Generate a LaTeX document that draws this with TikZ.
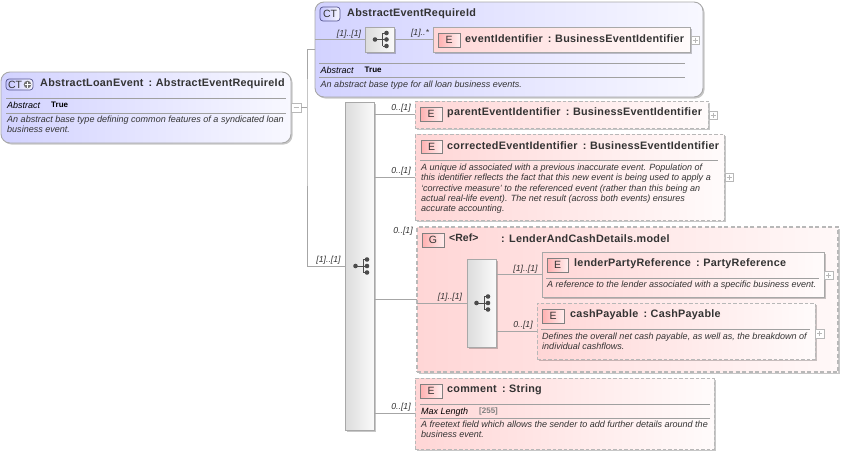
\documentclass[tikz,border=0pt]{standalone}
\usepackage{fontspec}
\setmainfont{Liberation Sans}
\usetikzlibrary{shadows,calc}
\definecolor{ink}{HTML}{333333}
\definecolor{bord}{HTML}{A8A8A8}
\definecolor{dashb}{HTML}{B8B8B8}
\definecolor{conn}{HTML}{A6A6A6}
\definecolor{rule}{HTML}{A0A0A0}
\newfontfamily\tfont{Liberation Sans}[LetterSpace=2.5]
\newcommand{\cc}{\hspace{5.2pt}:\hspace{3.6pt}}
\tikzset{
  base/.style={inner sep=0pt,outer sep=0pt,draw},
  shad/.style={drop shadow={shadow xshift=1.5pt,shadow yshift=-1.5pt,fill=black,opacity=.22}},
  ctbox/.style={base,shad,draw=bord,line width=.9pt,rounded corners=9pt,left color=ctleft,right color=ctright},
  elsolid/.style={base,shad,draw=bord,line width=1pt,left color=elleft,right color=elright},
  eldash/.style={base,shad,draw=dashb,line width=1pt,dash pattern=on 3.5pt off 2pt,left color=elleft,right color=elright},
  grp/.style={base,shad,draw=dashb,line width=1.3pt,dash pattern=on 4pt off 2.5pt,left color=grleft,right color=grright},
  seq/.style={base,shad,draw=bord,line width=.8pt,left color=sqleft,right color=sqright},
  icE/.style={base,draw=black!50,line width=.6pt,left color=icB,right color=icT,text=ink,font=\fontsize{10.5}{12}\selectfont},
  icC/.style={base,draw=ctdark,line width=.7pt,rounded corners=3pt,left color=cticon,right color=ctright,text=ink,font=\fontsize{10.5}{12}\selectfont},
  plusb/.style={base,draw=black!28,line width=.5pt,fill=white},
  title/.style={inner sep=0pt,anchor=west,text=ink,font=\tfont\bfseries\fontsize{10.8}{13}\selectfont},
  prop/.style={inner sep=0pt,anchor=west,text=black,font=\itshape\fontsize{9}{10}\selectfont},
  propv/.style={inner sep=0pt,anchor=west,text=black,font=\bfseries\fontsize{8}{10}\selectfont},
  desc/.style={inner sep=0pt,anchor=north west,align=left,text=ink,font=\itshape\fontsize{9.03}{10.2}\selectfont},
  lab/.style={inner sep=0pt,anchor=center,text=ink,font=\itshape\fontsize{8.7}{10}\selectfont},
  cn/.style={draw=conn,line width=.7pt},
  sep/.style={draw=rule,line width=.7pt},
}
\definecolor{ctleft}{HTML}{D2D2FF}
\definecolor{ctright}{HTML}{F8F8FF}
\definecolor{elleft}{HTML}{FFD6D6}
\definecolor{elright}{HTML}{FFFBFB}
\definecolor{grleft}{HTML}{FFD6D6}
\definecolor{grright}{HTML}{FFF8F8}
\definecolor{sqleft}{HTML}{DCDCDC}
\definecolor{sqright}{HTML}{FAFAFA}
\definecolor{icT}{HTML}{FFEEEE}
\definecolor{icB}{HTML}{FFB0B0}
\definecolor{ctdark}{HTML}{55558F}
\definecolor{cticon}{HTML}{C4C4FF}
% \bx{name}{x1}{y1}{x2}{y2}{style}{text}
\newcommand{\bx}[7]{%
  \pgfmathsetmacro{\bxw}{#4-#2}\pgfmathsetmacro{\bxh}{#5-#3}%
  \node[#6,anchor=north west,minimum width=\bxw pt,minimum height=\bxh pt] (#1) at (#2,#3) {#7};}
\newcommand{\treeicon}[2]{%
  \begin{scope}[shift={(#1,#2)}]
    \draw[black!70,line width=.8pt] (-4.5,0) -- (3,0) (3,-6.5) -- (3,6.5) (3,-6.5) -- (7,-6.5) (3,0) -- (7,0) (3,6.5) -- (7,6.5);
    \fill[black!70] (-4.5,0) circle (2.3pt) (7,-6.5) circle (2.3pt) (7,0) circle (2.3pt) (7,6.5) circle (2.3pt);
  \end{scope}}
\newcommand{\plusmark}[1]{\draw[black!28,line width=.5pt] ($(#1.center)+(-2.5,0)$) -- ($(#1.center)+(2.5,0)$) ($(#1.center)+(0,-2.5)$) -- ($(#1.center)+(0,2.5)$);}
\begin{document}
\begin{tikzpicture}[x=1pt,y=-1pt]
\useasboundingbox (0,0) rectangle (844,456);
% containers
\bx{root}{1}{72}{291}{143}{ctbox}{}
\bx{ct}{315}{2}{703}{97}{ctbox}{}
% connector tree
\bx{rminus}{291}{103}{301}{112}{plusb}{}
\draw[black!28,line width=.5pt] ($(rminus.center)+(-2.5,0)$) -- ($(rminus.center)+(2.5,0)$);
\coordinate (trunk) at (307,107.5);
\coordinate (ctin) at (315,49);
\bx{bigseq}{345}{102}{374}{430}{seq}{}
\coordinate (bigin) at (345,266);
\draw[cn] (rminus.east) -- (trunk);
\draw[cn] (ctin) -| (trunk) |- (bigin);
\node[lab] (l0) at (328.5,260) {[1]..[1]};
% root contents
\bx{rct}{6}{79}{33}{90}{icC}{}
\node[inner sep=0pt,text=ink,font=\fontsize{10.5}{12}\selectfont] (rctt) at (15,84.5) {CT};
\fill[black!55] (27.5,84.5) circle (3.8pt);
\draw[white,line width=.9pt] (24.5,84.5) -- (30.5,84.5) (27.5,81.5) -- (27.5,87.5);
\node[title] (rt) at (40,83.5) {AbstractLoanEvent\cc AbstractEventRequireId};
\draw[sep] (6,98) -- (286,98) (6,113) -- (286,113);
\node[prop] (rp) at (7,105.5) {Abstract};
\node[propv] (rv) at (51,105) {True};
\node[desc] (rd) at (7,116) {An abstract base type defining common features of a syndicated loan\\business event.};
% CT contents
\bx{cti}{320}{7}{340}{21}{icC}{CT}
\node[title] (ctt) at (347,13.5) {AbstractEventRequireId};
\bx{seqa}{365}{27}{394}{52}{seq}{}
\treeicon{379.5}{39.5}
\bx{evid}{433}{27}{690}{52}{elsolid}{}
\bx{evi}{438}{33}{460}{47}{icE}{E}
\node[title] (evt) at (465,38.5) {eventIdentifier\cc BusinessEventIdentifier};
\bx{evp}{691}{36}{699}{44}{plusb}{}\plusmark{evp}
\draw[cn] (ct.west |- seqa.west) -- (seqa.west);
\draw[cn] (seqa.east) -- (evid.west);
\node[lab] (l1) at (349,34) {[1]..[1]};
\node[lab] (l2) at (420,33.5) {[1]..*};
\draw[sep] (319,63) -- (685,63) (319,77) -- (685,77);
\node[prop] (cp) at (320.5,70.5) {Abstract};
\node[propv] (cv) at (364.5,70) {True};
\node[desc] (cd) at (320.5,80.5) {An abstract base type for all loan business events.};
% big sequence
\treeicon{360}{266}
% parent
\bx{par}{415}{101}{708}{128}{eldash}{}
\bx{pari}{420}{107}{442}{121}{icE}{E}
\node[title] (part) at (447,113) {parentEventIdentifier\cc BusinessEventIdentifier};
\bx{parp}{709}{111}{717}{119}{plusb}{}\plusmark{parp}
\draw[cn] (bigseq.east |- par.west) -- (par.west);
\node[lab] (l3) at (401,108) {0..[1]};
% corrected
\bx{cor}{415}{134}{724}{220}{eldash}{}
\bx{cori}{421}{140}{442}{153}{icE}{E}
\node[title] (cort) at (447,145.5) {correctedEventIdentifier\cc BusinessEventIdentifier};
\draw[sep] (420,160) -- (718,160);
\node[desc] (cord) at (421,164) {A unique id associated with a previous inaccurate event. Population of\\this identifier reflects the fact that this new event is being used to apply a\\`corrective measure' to the referenced event (rather than this being an\\actual real-life event). The net result (across both events) ensures\\accurate accounting.};
\bx{corp}{725}{173}{733}{181}{plusb}{}\plusmark{corp}
\draw[cn] (bigseq.east |- cor.west) -- (cor.west);
\node[lab] (l4) at (401,171) {0..[1]};
% group
\bx{grpb}{417}{227}{838}{372}{grp}{}
\bx{gi}{422}{233}{444}{247}{icE}{G}
\node[title,font=\bfseries\fontsize{10.5}{12}\selectfont] (gr) at (449,238) {<Ref>};
\node[title] (gt) at (501,238.5) {: LenderAndCashDetails.model};
\node[lab] (l5) at (403,231) {0..[1]};
\draw[cn] (bigseq.east |- grpb.west) -- (grpb.west);
\bx{seqb}{467}{259}{496}{347}{seq}{}
\treeicon{481}{303}
\draw[cn] (grpb.west |- seqb.west) -- (seqb.west);
\node[lab] (l6) at (450,297) {[1]..[1]};
% lender
\bx{len}{542}{252}{824}{297}{elsolid}{}
\bx{leni}{547}{258}{568}{272}{icE}{E}
\node[title] (lent) at (574,263.5) {lenderPartyReference\cc PartyReference};
\draw[sep] (546,278) -- (819,278);
\node[desc] (lend) at (547,281) {A reference to the lender associated with a specific business event.};
\bx{lenp}{824}{271}{833}{279}{plusb}{}\plusmark{lenp}
\draw[cn] (seqb.east |- len.west) -- (len.west);
\node[lab] (l7) at (525.5,269) {[1]..[1]};
% cash
\bx{cash}{537}{303}{815}{359}{eldash}{}
\bx{cashi}{542}{309}{564}{323}{icE}{E}
\node[title] (casht) at (570,314.5) {cashPayable\cc CashPayable};
\draw[sep] (541,329) -- (810,329);
\node[desc] (cashd) at (542,333) {Defines the overall net cash payable, as well as, the breakdown of\\individual cashflows.};
\bx{cashp}{815}{329}{824}{338}{plusb}{}\plusmark{cashp}
\draw[cn] (seqb.east |- cash.west) -- (cash.west);
\node[lab] (l8) at (523,325.5) {0..[1]};
% comment
\bx{com}{415}{378}{714}{449}{eldash}{}
\bx{comi}{420}{384}{442}{398}{icE}{E}
\node[title] (comt) at (447,389.5) {comment\cc String};
\draw[sep] (420,404) -- (710,404) (420,418) -- (710,418);
\node[prop] (comp) at (421,412) {Max Length};
\node[inner sep=0pt,anchor=west,text=black!50,font=\bfseries\fontsize{8}{10}\selectfont] (comv) at (479,411.5) {[255]};
\node[desc] (comd) at (421,421) {A freetext field which allows the sender to add further details around the\\business event.};
\draw[cn] (bigseq.east |- com.west) -- (com.west);
\node[lab] (l9) at (401,407) {0..[1]};
\end{tikzpicture}
\end{document}
